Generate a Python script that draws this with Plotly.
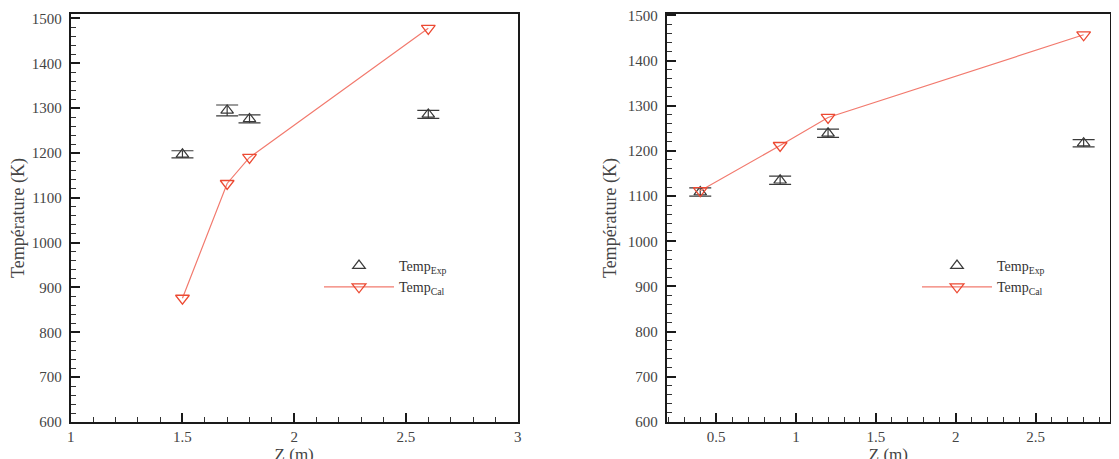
import plotly.graph_objects as go

# ---- data: left panel ----
z_exp_a = [1.5, 1.7, 1.8, 2.6]
t_exp_a = [1197, 1295, 1276, 1286]
err_a = [8, 12, 9, 9]
z_cal_a = [1.5, 1.7, 1.8, 2.6]
t_cal_a = [876, 1132, 1190, 1478]

# ---- data: right panel ----
z_exp_b = [0.4, 0.9, 1.2, 2.8]
t_exp_b = [1109, 1135, 1239, 1217]
err_b = [9, 9, 9, 8]
z_cal_b = [0.4, 0.9, 1.2, 2.8]
t_cal_b = [1112, 1212, 1274, 1457]

x_ticks_a = [1, 1.5, 2, 2.5, 3]
x_ticks_b = [0.5, 1, 1.5, 2, 2.5, 3]
y_ticks = [600, 700, 800, 900, 1000, 1100, 1200, 1300, 1400, 1500]

W, H = 1111, 459
OFF = 8  # page body margin
FONT = "Liberation Serif, Times New Roman, serif"
EXP_C = "#3a3a3a"
CAL_M = "#ec4a33"
CAL_L = "#f27a6e"


def fx(px):
    return (px - OFF) / W


def fy(py):
    return 1 - (py - OFF) / H


fig = go.Figure()


def add_panel(xs_e, ys_e, errs, xs_c, ys_c, xa, ya, leg):
    fig.add_trace(go.Scatter(
        x=xs_e, y=ys_e, mode="markers", name="Temp<sub>Exp</sub>",
        marker=dict(symbol="triangle-up-open", size=11, color=EXP_C, line=dict(width=1.2)),
        error_y=dict(type="data", array=errs, visible=True, color=EXP_C, thickness=1.2, width=11),
        xaxis=xa, yaxis=ya, legend=leg))
    fig.add_trace(go.Scatter(
        x=xs_c, y=ys_c, mode="lines+markers", name="Temp<sub>Cal</sub>",
        line=dict(color=CAL_L, width=1.2),
        marker=dict(symbol="triangle-down-open", size=12, color=CAL_M, line=dict(width=1.3)),
        xaxis=xa, yaxis=ya, legend=leg))


add_panel(z_exp_a, t_exp_a, err_a, z_cal_a, t_cal_a, "x", "y", "legend")
add_panel(z_exp_b, t_exp_b, err_b, z_cal_b, t_cal_b, "x2", "y2", "legend2")


def xax(dom, rng, ticks, anchor):
    return dict(domain=dom, range=rng, anchor=anchor, tickvals=ticks,
                ticktext=[f"{t:g}" for t in ticks],
                showgrid=False, zeroline=False, showline=True, mirror=True,
                linecolor="#1a1a1a", linewidth=2, ticks="inside", ticklen=9,
                tickwidth=1.5, tickcolor="#1a1a1a",
                minor=dict(dtick=0.1, ticks="inside", ticklen=5, tickwidth=1, tickcolor="#333", showgrid=False),
                tickfont=dict(family=FONT, size=15, color="#444"),
                ticklabeloverflow="allow",
                title=dict(text="Z (m)", font=dict(family=FONT, size=17, color="#444"), standoff=0),
                automargin=False)


def yax(dom, rng, anchor):
    return dict(domain=dom, range=rng, anchor=anchor, tickvals=y_ticks,
                showgrid=False, zeroline=False, showline=True, mirror=True,
                linecolor="#1a1a1a", linewidth=2, ticks="inside", ticklen=9,
                tickwidth=1.5, tickcolor="#1a1a1a",
                minor=dict(dtick=20, ticks="inside", ticklen=5, tickwidth=1, tickcolor="#333", showgrid=False),
                tickfont=dict(family=FONT, size=15, color="#444"),
                ticklabelstandoff=4, ticklabeloverflow="allow",
                title=dict(text="Température (K)", font=dict(family=FONT, size=18, color="#444"), standoff=6),
                automargin=False)


yd = [fy(422), fy(14)]
legfont = dict(family=FONT, size=14, color="#333")
fig.update_layout(
    width=W, height=H, margin=dict(l=0, r=0, t=0, b=0),
    paper_bgcolor="white", plot_bgcolor="white",
    xaxis=xax([fx(70.7), fx(517.7)], [1, 3], x_ticks_a, "y"),
    yaxis=yax(yd, [600, 1510], "x"),
    xaxis2=xax([fx(666.7), fx(1110)], [0.19, 2.965], x_ticks_b, "y2"),
    yaxis2=yax(yd, [600, 1503], "x2"),
    legend=dict(x=fx(319), y=fy(250), xanchor="left", yanchor="top",
                font=legfont, bgcolor="rgba(0,0,0,0)", itemwidth=70, tracegroupgap=0),
    legend2=dict(x=fx(917), y=fy(250), xanchor="left", yanchor="top",
                 font=legfont, bgcolor="rgba(0,0,0,0)", itemwidth=70, tracegroupgap=0),
)

fig.write_html("out.html")
